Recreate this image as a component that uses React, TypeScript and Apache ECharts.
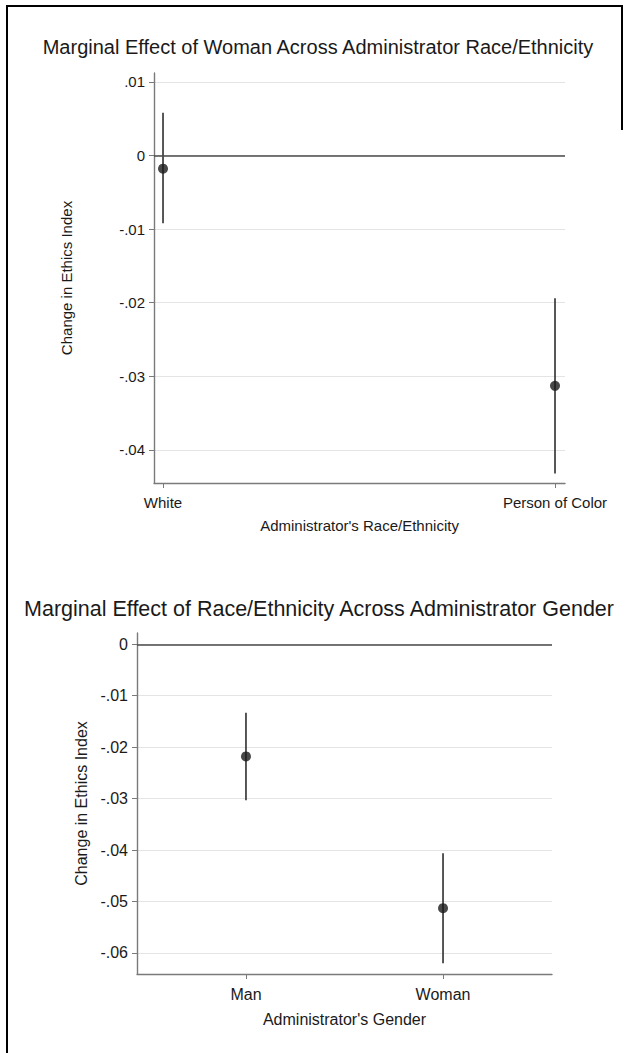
import React, { useEffect, useRef } from "react";
import * as echarts from "echarts";

// Panel 1: Marginal effect of Woman across administrator race/ethnicity
const raceCategories = ["White", "Person of Color"];
const raceEstimates = [-0.0018, -0.0313];
const raceLower = [-0.0092, -0.0432];
const raceUpper = [0.0058, -0.0194];
const raceTicks = [0.01, 0, -0.01, -0.02, -0.03, -0.04];

// Panel 2: Marginal effect of race/ethnicity across administrator gender
const genderCategories = ["Man", "Woman"];
const genderEstimates = [-0.0218, -0.0513];
const genderLower = [-0.0303, -0.062];
const genderUpper = [-0.0133, -0.0406];
const genderTicks = [0, -0.01, -0.02, -0.03, -0.04, -0.05, -0.06];

const FONT = "'Liberation Sans', Arial, Helvetica, sans-serif";
const TEXT = "#1a1a1a";

const fmt = (v: number) => {
  if (Math.abs(v) < 1e-9) return "0";
  return v.toFixed(2).replace("0.", ".");
};

function ciRender(params: any, api: any) {
  const x = api.value(0);
  const p1 = api.coord([x, api.value(1)]);
  const p2 = api.coord([x, api.value(2)]);
  return {
    type: "line",
    shape: { x1: p1[0], y1: p1[1], x2: p2[0], y2: p2[1] },
    style: { stroke: "#2e2e2e", lineWidth: 1.6 },
  };
}

export default function App() {
  const ref = useRef<HTMLDivElement>(null);
  useEffect(() => {
    if (!ref.current) return;
    const chart = echarts.init(ref.current, undefined, { renderer: "svg" });

    const makeX = (gridIndex: number, cats: string[], min: number, max: number, name: string, fs: number, nameGap: number, labelMargin: number) => ({
      type: "value",
      gridIndex,
      min,
      max,
      name,
      nameLocation: "middle",
      nameGap,
      nameTextStyle: { fontFamily: FONT, fontSize: fs, color: TEXT },
      axisLine: { show: true, onZero: false, lineStyle: { color: "#7a7a7a", width: 1.4 } },
      axisTick: { show: true, customValues: [0, 1], length: 5, lineStyle: { color: "#7a7a7a", width: 1 } },
      axisLabel: {
        customValues: [0, 1],
        formatter: (v: number) => cats[Math.round(v)] ?? "",
        fontFamily: FONT,
        fontSize: fs,
        color: TEXT,
        margin: labelMargin,
      },
      splitLine: { show: false },
    });

    const makeY = (gridIndex: number, ticks: number[], min: number, max: number, fs: number, nameGap: number) => ({
      type: "value",
      gridIndex,
      min,
      max,
      name: "Change in Ethics Index",
      nameLocation: "middle",
      nameRotate: 90,
      nameGap,
      nameTextStyle: { fontFamily: FONT, fontSize: fs, color: TEXT },
      axisLine: { show: true, onZero: false, lineStyle: { color: "#7a7a7a", width: 1.4 } },
      axisTick: { show: true, customValues: ticks, length: 5, lineStyle: { color: "#7a7a7a", width: 1 } },
      axisLabel: {
        customValues: ticks,
        formatter: fmt,
        fontFamily: FONT,
        fontSize: fs,
        color: TEXT,
        margin: 9,
      },
      splitLine: { show: true, lineStyle: { color: "#e4e4e4", width: 1.2 } },
    });

    const zeroLine = {
      silent: true,
      symbol: "none",
      label: { show: false },
      lineStyle: { color: "#4a4a4a", width: 1.5, type: "solid" },
      data: [{ yAxis: 0 }],
    };

    chart.setOption({
      animation: false,
      backgroundColor: "#ffffff",
      title: [
        {
          text: "Marginal Effect of Woman Across Administrator Race/Ethnicity",
          left: 313,
          top: 32,
          textAlign: "center",
          textStyle: { fontFamily: FONT, fontSize: 20, fontWeight: "normal", color: TEXT },
        },
        {
          text: "Marginal Effect of Race/Ethnicity Across Administrator Gender",
          left: 314,
          top: 593,
          textAlign: "center",
          textStyle: { fontFamily: FONT, fontSize: 21.5, fontWeight: "normal", color: TEXT },
        },
      ],
      grid: [
        { left: 154, top: 73, width: 411, height: 410, containLabel: false },
        { left: 137, top: 633, width: 415, height: 341, containLabel: false },
      ],
      xAxis: [
        makeX(0, raceCategories, -0.023, 1.0255, "Administrator's Race/Ethnicity", 15, 35, 12),
        makeX(1, genderCategories, -0.553, 1.553, "Administrator's Gender", 16, 37, 12),
      ],
      yAxis: [
        makeY(0, raceTicks, -0.0445, 0.0112, 15, 80),
        makeY(1, genderTicks, -0.0641, 0.0022, 16, 42),
      ],
      graphic: [
        { type: "line", shape: { x1: 7, y1: 6, x2: 7, y2: 1053 }, style: { stroke: "#000", lineWidth: 2 } },
        { type: "line", shape: { x1: 6, y1: 6, x2: 622, y2: 6 }, style: { stroke: "#000", lineWidth: 2 } },
        { type: "line", shape: { x1: 622, y1: 5, x2: 622, y2: 130 }, style: { stroke: "#000", lineWidth: 2 } },
      ],
      series: [
        {
          type: "custom",
          xAxisIndex: 0,
          yAxisIndex: 0,
          renderItem: ciRender,
          encode: { x: 0, y: [1, 2] },
          data: raceCategories.map((_, i) => [i, raceLower[i], raceUpper[i]]),
          z: 3,
        },
        {
          type: "scatter",
          xAxisIndex: 0,
          yAxisIndex: 0,
          symbolSize: 10,
          itemStyle: { color: "#1a1a1a" },
          data: raceCategories.map((_, i) => [i, raceEstimates[i]]),
          markLine: zeroLine,
          z: 4,
        },
        {
          type: "custom",
          xAxisIndex: 1,
          yAxisIndex: 1,
          renderItem: ciRender,
          encode: { x: 0, y: [1, 2] },
          data: genderCategories.map((_, i) => [i, genderLower[i], genderUpper[i]]),
          z: 3,
        },
        {
          type: "scatter",
          xAxisIndex: 1,
          yAxisIndex: 1,
          symbolSize: 10,
          itemStyle: { color: "#1a1a1a" },
          data: genderCategories.map((_, i) => [i, genderEstimates[i]]),
          markLine: zeroLine,
          z: 4,
        },
      ],
    });
    return () => chart.dispose();
  }, []);
  return (
    <div
      ref={ref}
      style={{ position: "absolute", left: 0, top: 0, width: 626, height: 1053, background: "#fff" }}
    />
  );
}
